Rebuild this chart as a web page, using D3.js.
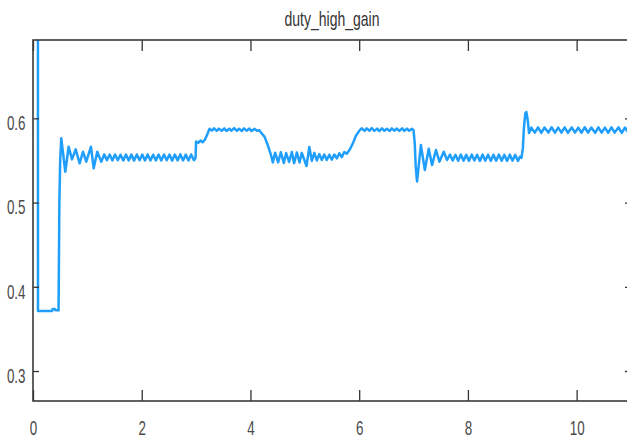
<!DOCTYPE html>
<html>
<head>
<meta charset="utf-8">
<script src="https://cdn.jsdelivr.net/npm/d3@7"></script>
<style>
  body { margin: 0; background: #fff; }
  text { font-family: "Liberation Sans", Arial, sans-serif; }
</style>
</head>
<body>
<div id="scope"></div>
<script>
// values
const timeSec = [
  0, 0.09, 0.092, 0.35, 0.36, 0.40, 0.41, 0.47, 0.485, 0.50,
  0.52, 0.594, 0.656, 0.717, 0.785, 0.858, 0.919, 0.980, 1.066, 1.116, 1.182, 1.256,
  1.31, 1.36, 1.41, 1.46, 1.51, 1.56, 1.61, 1.66, 1.71, 1.76, 1.81, 1.86, 1.91, 1.96, 2.01, 2.06, 2.11,
  2.16, 2.21, 2.26, 2.31, 2.36, 2.41, 2.46, 2.51, 2.56, 2.61, 2.66, 2.71, 2.76, 2.81, 2.86, 2.91, 2.96,
  2.99, 3.00, 3.04, 3.08, 3.12, 3.16, 3.20, 3.245,
  3.29, 3.33, 3.38, 3.42, 3.47, 3.52, 3.56, 3.61, 3.65, 3.70,
  3.75, 3.79, 3.84, 3.88, 3.93, 3.98, 4.02, 4.07, 4.12, 4.16,
  4.19, 4.26, 4.32, 4.38, 4.412,
  4.454, 4.509, 4.559, 4.614, 4.656, 4.711, 4.761, 4.803, 4.853, 4.903, 4.945, 5.031,
  5.083, 5.129, 5.175, 5.221, 5.267, 5.313, 5.358, 5.404, 5.450, 5.496, 5.542,
  5.588, 5.634, 5.680, 5.726, 5.772, 5.827, 5.882, 5.938, 6.011,
  6.05, 6.10, 6.14, 6.19, 6.23, 6.28, 6.33, 6.37, 6.42, 6.46, 6.51,
  6.56, 6.60, 6.65, 6.69, 6.74, 6.79, 6.83, 6.88, 6.92, 6.97, 7.00,
  7.022, 7.040, 7.064, 7.135, 7.208, 7.279, 7.340, 7.413, 7.476, 7.555, 7.616,
  7.67, 7.72, 7.77, 7.82, 7.87, 7.92, 7.97, 8.02, 8.07, 8.12, 8.17, 8.22, 8.27, 8.32,
  8.37, 8.42, 8.47, 8.52, 8.57, 8.62, 8.67, 8.72, 8.77, 8.82, 8.87, 8.92, 8.96,
  8.985, 9.010, 9.030, 9.055, 9.075, 9.100, 9.125, 9.167,
  9.23, 9.29, 9.35, 9.41, 9.48, 9.54, 9.60, 9.66, 9.72, 9.78, 9.84, 9.91, 9.97, 10.03, 10.09,
  10.15, 10.21, 10.27, 10.34, 10.40, 10.46, 10.52, 10.58, 10.64, 10.70, 10.77, 10.83, 10.89, 10.95, 11.01
];

const dutyHighGain = [
  0.95, 0.95, 0.3712, 0.3712, 0.3735, 0.3735, 0.3720, 0.3720, 0.500, 0.550,
  0.5763, 0.5366, 0.5663, 0.5513, 0.5632, 0.5466, 0.5603, 0.5485, 0.5663, 0.5406, 0.5603, 0.5485,
  0.5572, 0.5502, 0.5570, 0.5500, 0.5571, 0.5503, 0.5568, 0.5499, 0.5570, 0.5501, 0.5569, 0.5498, 0.5571, 0.5502, 0.5569, 0.5500, 0.5572,
  0.5499, 0.5568, 0.5501, 0.5570, 0.5499, 0.5571, 0.5502, 0.5569, 0.5498, 0.5570, 0.5501, 0.5572, 0.5500, 0.5569, 0.5499, 0.5571, 0.5502,
  0.5530, 0.5725, 0.5710, 0.5735, 0.5718, 0.5745, 0.5800, 0.5875,
  0.5855, 0.5882, 0.5850, 0.5878, 0.5852, 0.5880, 0.5849, 0.5876, 0.5853, 0.5884,
  0.5851, 0.5877, 0.5850, 0.5881, 0.5854, 0.5878, 0.5849, 0.5875, 0.5852, 0.5860,
  0.5835, 0.5780, 0.5680, 0.5560, 0.5475,
  0.5592, 0.5478, 0.5597, 0.5470, 0.5588, 0.5482, 0.5600, 0.5468, 0.5595, 0.5476, 0.5590, 0.5434,
  0.5660, 0.5495, 0.5590, 0.5500, 0.5575, 0.5505, 0.5570, 0.5505, 0.5568, 0.5510, 0.5570,
  0.5525, 0.5585, 0.5540, 0.5600, 0.5580, 0.5630, 0.5700, 0.5790, 0.5860,
  0.5882, 0.5850, 0.5880, 0.5853, 0.5884, 0.5851, 0.5878, 0.5849, 0.5882, 0.5852, 0.5877,
  0.5850, 0.5881, 0.5853, 0.5879, 0.5850, 0.5882, 0.5851, 0.5878, 0.5852, 0.5875, 0.5860,
  0.5703, 0.5425, 0.5250, 0.5683, 0.5386, 0.5640, 0.5445, 0.5624, 0.5485, 0.5603, 0.5505,
  0.5569, 0.5499, 0.5567, 0.5496, 0.5570, 0.5498, 0.5566, 0.5495, 0.5569, 0.5499, 0.5567, 0.5494, 0.5570, 0.5497,
  0.5568, 0.5495, 0.5566, 0.5498, 0.5570, 0.5496, 0.5567, 0.5494, 0.5569, 0.5497, 0.5566, 0.5495, 0.5545,
  0.5530, 0.5640, 0.5880, 0.6060, 0.6075, 0.5980, 0.5825, 0.5890,
  0.5830, 0.5893, 0.5828, 0.5891, 0.5831, 0.5894, 0.5829, 0.5890, 0.5830, 0.5893, 0.5828, 0.5892, 0.5831, 0.5890, 0.5829,
  0.5894, 0.5830, 0.5891, 0.5828, 0.5893, 0.5831, 0.5890, 0.5829, 0.5892, 0.5830, 0.5894, 0.5828, 0.5891, 0.5830, 0.5892
];

const xTicks = [0, 2, 4, 6, 8, 10];
const yTicks = [0.3, 0.4, 0.5, 0.6];
const chartTitle = 'duty_high_gain';

const width = 627, height = 443;
const plot = { left: 33, right: 631, top: 40, bottom: 401 };
const squeeze = 0.67;   // the picture's text is narrow

const svg = d3.select('#scope').append('svg')
    .attr('width', width)
    .attr('height', height);

const xScale = d3.scaleLinear().domain([0, 11]).range([plot.left, plot.right]);
const yScale = d3.scaleLinear().domain([0.2644, 0.693]).range([plot.bottom, plot.top]);

svg.append('clipPath').attr('id', 'plot-clip')
    .append('rect')
    .attr('x', plot.left).attr('y', plot.top)
    .attr('width', plot.right - plot.left)
    .attr('height', plot.bottom - plot.top);

const points = timeSec.map((t, i) => ({ t: t, v: dutyHighGain[i] }));

const line = d3.line()
    .x(d => xScale(d.t))
    .y(d => yScale(d.v));

svg.append('path')
    .datum(points)
    .attr('clip-path', 'url(#plot-clip)')
    .attr('fill', 'none')
    .attr('stroke', '#209efc')
    .attr('stroke-width', 2.5)
    .attr('stroke-linejoin', 'round')
    .attr('d', line);

// axes, ticks point inward like the scope window
const bottomAxis = svg.append('g')
    .attr('transform', 'translate(0,' + plot.bottom + ')')
    .call(d3.axisBottom(xScale).tickValues(xTicks).tickSizeInner(-11).tickSizeOuter(0).tickPadding(20));

const topAxis = svg.append('g')
    .attr('transform', 'translate(0,' + plot.top + ')')
    .call(d3.axisTop(xScale).tickValues(xTicks).tickSizeInner(-11).tickSizeOuter(0).tickFormat(''));

const leftAxis = svg.append('g')
    .attr('transform', 'translate(' + plot.left + ',0)')
    .call(d3.axisLeft(yScale).tickValues(yTicks).tickSizeInner(-6).tickSizeOuter(0).tickFormat(d3.format('.1f')));

const rightAxis = svg.append('g')
    .attr('transform', 'translate(' + plot.right + ',0)')
    .call(d3.axisRight(yScale).tickValues(yTicks).tickSizeInner(-6).tickSizeOuter(0).tickFormat(''));

[bottomAxis, topAxis, leftAxis, rightAxis].forEach(ax => {
    ax.select('.domain').remove();
    ax.selectAll('.tick line').attr('stroke', '#333').attr('stroke-width', 1.3);
});

bottomAxis.selectAll('.tick text')
    .attr('fill', '#4a4a4a')
    .attr('font-size', 20)
    .attr('transform', 'scale(' + squeeze + ',1)');

leftAxis.selectAll('.tick text')
    .attr('fill', '#4a4a4a')
    .attr('font-size', 20)
    .attr('x', -7.5 / squeeze)
    .attr('dy', '0.57em')
    .attr('transform', 'scale(' + squeeze + ',1)');

svg.append('rect')
    .attr('x', plot.left).attr('y', plot.top)
    .attr('width', plot.right - plot.left)
    .attr('height', plot.bottom - plot.top)
    .attr('fill', 'none')
    .attr('stroke', '#3a3a3a')
    .attr('stroke-width', 1.6);

svg.append('text')
    .attr('transform', 'translate(' + (plot.left + plot.right) / 2 + ',26) scale(0.7,1)')
    .attr('text-anchor', 'middle')
    .attr('font-size', 20)
    .attr('fill', '#333')
    .text(chartTitle);
</script>
</body>
</html>
